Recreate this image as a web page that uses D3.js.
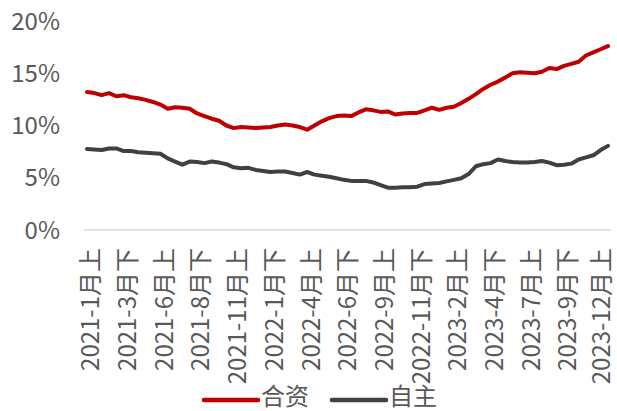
<!DOCTYPE html>
<html>
<head>
<meta charset="utf-8">
<script src="https://cdn.jsdelivr.net/npm/d3@7/dist/d3.min.js"></script>
<style>
  html, body { margin: 0; padding: 0; background: #fff; }
  svg { display: block; font-family: "Noto Sans CJK SC", "Noto Sans", sans-serif; }
  .tick-label { fill: #595959; font-size: 24px; }
  .legend-label { fill: #595959; font-size: 24px; }
</style>
</head>
<body>
<svg id="chart"></svg>
<script>
const W = 617;
const H = 411;

// half-month periods, 2021-1月上 .. 2023-12月下
const CATEGORIES = [
  "2021-1月上", "2021-1月下", "2021-2月上", "2021-2月下", "2021-3月上", "2021-3月下",
  "2021-4月上", "2021-4月下", "2021-5月上", "2021-5月下", "2021-6月上", "2021-6月下",
  "2021-7月上", "2021-7月下", "2021-8月上", "2021-8月下", "2021-9月上", "2021-9月下",
  "2021-10月上", "2021-10月下", "2021-11月上", "2021-11月下", "2021-12月上", "2021-12月下",
  "2022-1月上", "2022-1月下", "2022-2月上", "2022-2月下", "2022-3月上", "2022-3月下",
  "2022-4月上", "2022-4月下", "2022-5月上", "2022-5月下", "2022-6月上", "2022-6月下",
  "2022-7月上", "2022-7月下", "2022-8月上", "2022-8月下", "2022-9月上", "2022-9月下",
  "2022-10月上", "2022-10月下", "2022-11月上", "2022-11月下", "2022-12月上", "2022-12月下",
  "2023-1月上", "2023-1月下", "2023-2月上", "2023-2月下", "2023-3月上", "2023-3月下",
  "2023-4月上", "2023-4月下", "2023-5月上", "2023-5月下", "2023-6月上", "2023-6月下",
  "2023-7月上", "2023-7月下", "2023-8月上", "2023-8月下", "2023-9月上", "2023-9月下",
  "2023-10月上", "2023-10月下", "2023-11月上", "2023-11月下", "2023-12月上", "2023-12月下"
];

const HEZI = [
  13.2, 13.1, 12.9, 13.1, 12.8, 12.9, 12.7, 12.6, 12.45, 12.25, 12.0, 11.6,
  11.75, 11.7, 11.6, 11.15, 10.9, 10.65, 10.45, 10.0, 9.75, 9.85, 9.8, 9.75,
  9.8, 9.85, 10.0, 10.1, 10.0, 9.85, 9.6, 10.0, 10.4, 10.7, 10.9, 10.95,
  10.9, 11.25, 11.55, 11.45, 11.3, 11.35, 11.05, 11.15, 11.2, 11.2, 11.45, 11.7,
  11.5, 11.7, 11.8, 12.15, 12.55, 13.0, 13.5, 13.9, 14.2, 14.6, 15.0, 15.1,
  15.05, 15.0, 15.15, 15.5, 15.4, 15.7, 15.9, 16.1, 16.7, 17.0, 17.3, 17.6
];

const ZIZHU = [
  7.75, 7.7, 7.65, 7.8, 7.8, 7.55, 7.55, 7.45, 7.4, 7.35, 7.3, 6.85,
  6.55, 6.25, 6.55, 6.5, 6.4, 6.55, 6.45, 6.3, 6.0, 5.9, 5.95, 5.75,
  5.65, 5.55, 5.6, 5.6, 5.45, 5.3, 5.55, 5.3, 5.2, 5.1, 4.95, 4.8,
  4.7, 4.7, 4.7, 4.55, 4.3, 4.05, 4.05, 4.1, 4.1, 4.15, 4.4, 4.45,
  4.5, 4.65, 4.8, 4.95, 5.35, 6.1, 6.3, 6.4, 6.75, 6.6, 6.5, 6.45,
  6.45, 6.5, 6.6, 6.45, 6.2, 6.25, 6.35, 6.75, 6.95, 7.15, 7.65, 8.05
];

const SERIES_NAMES = ["合资", "自主"];
const SERIES_COLORS = ["#c00000", "#404040"];
const Y_TICKS = [0, 5, 10, 15, 20];
const LABEL_EVERY = 5;

const series = [HEZI, ZIZHU].map((values, i) => ({
  name: SERIES_NAMES[i],
  color: SERIES_COLORS[i],
  values: values.map((v, j) => ({ cat: CATEGORIES[j], v }))
}));

const svg = d3.select("#chart").attr("width", W).attr("height", H);

const x = d3.scalePoint().domain(CATEGORIES).range([87, 608]);
const y = d3.scaleLinear().domain([0, 20]).range([230, 21]);

// y labels only, no gridlines
svg.append("g")
  .selectAll("text")
  .data(Y_TICKS)
  .join("text")
  .attr("class", "tick-label")
  .attr("x", 60)
  .attr("y", d => y(d))
  .attr("dy", "0.36em")
  .attr("text-anchor", "end")
  .text(d => d + "%");

// category axis line
svg.append("line")
  .attr("x1", 84).attr("x2", 611)
  .attr("y1", y(0)).attr("y2", y(0))
  .attr("stroke", "#d9d9d9")
  .attr("stroke-width", 1.5);

// every 5th period labelled; keep the last one inside the frame
svg.append("g")
  .selectAll("text")
  .data(CATEGORIES.filter((d, i) => i % LABEL_EVERY === 0))
  .join("text")
  .attr("class", "tick-label")
  .attr("transform", d => `translate(${Math.min(x(d) + 4.5, 602)},248) rotate(-90)`)
  .attr("dy", "0.33em")
  .attr("text-anchor", "end")
  .text(d => d);

const line = d3.line()
  .x(d => x(d.cat))
  .y(d => y(d.v));

svg.append("g")
  .selectAll("path")
  .data(series)
  .join("path")
  .attr("fill", "none")
  .attr("stroke", d => d.color)
  .attr("stroke-width", 4)
  .attr("stroke-linejoin", "round")
  .attr("stroke-linecap", "round")
  .attr("d", d => line(d.values));

// legend
const legendX = [204, 332];
const legend = svg.append("g")
  .selectAll("g")
  .data(series)
  .join("g")
  .attr("transform", (d, i) => `translate(${legendX[i]},400)`);

legend.append("line")
  .attr("x1", 0).attr("x2", 54)
  .attr("stroke", d => d.color)
  .attr("stroke-width", 4.5)
  .attr("stroke-linecap", "round");

legend.append("text")
  .attr("class", "legend-label")
  .attr("x", 57)
  .attr("dy", "0.2em")
  .text(d => d.name);
</script>
</body>
</html>
